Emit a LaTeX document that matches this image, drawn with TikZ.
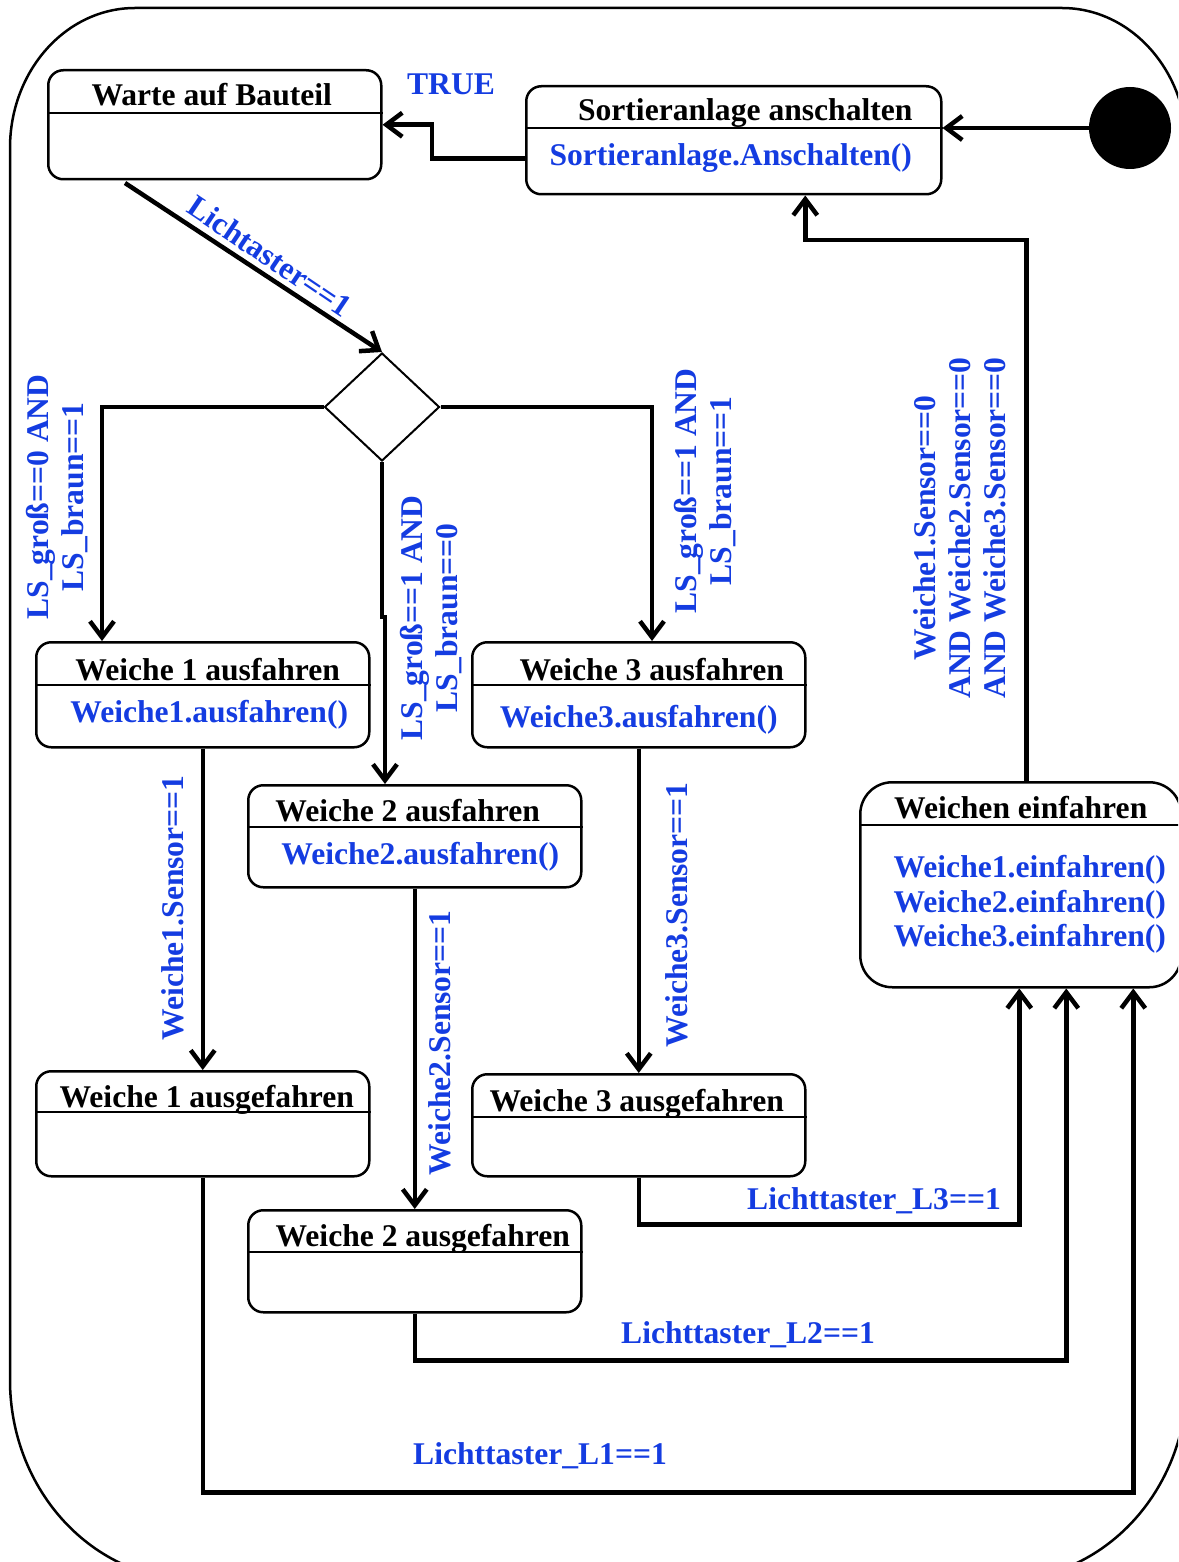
\documentclass[tikz,border=0pt]{standalone}
\usepackage{fontspec}
\setmainfont{Liberation Serif}
\usepackage{tikz}
\usetikzlibrary{shapes.geometric, arrows.meta, positioning}
\definecolor{guardblue}{RGB}{20,60,225}

\tikzset{
  statebox/.style={draw, line width=2.5pt, rounded corners=15pt, anchor=north west, inner sep=0pt},
  divider/.style={line width=2.5pt},
  titletext/.style={anchor=base, text=black},
  bodytext/.style={anchor=base, text=guardblue},
  guard/.style={text=guardblue, align=center, inner sep=0pt},
  decision/.style={draw, diamond, line width=2pt, minimum width=115pt, minimum height=108pt, inner sep=0pt},
  initdot/.style={circle, fill=black, minimum size=82pt, inner sep=0pt},
  trans/.style={line width=4.5pt, -{Straight Barb[length=16pt, width=24pt]}}
}

\begin{document}
\begin{tikzpicture}[x=1pt, y=-1pt, font=\fontsize{31.6}{35}\selectfont\bfseries]
  \useasboundingbox (0,0) rectangle (1178,1562);
  \clip (0,0) rectangle (1178,1562);

  % outer frame, runs off the right and bottom edge
  \draw[line width=2.5pt] (10,148) .. controls (10,70.7) and (66,8) .. (135,8)
    -- (1062,8) .. controls (1131,8) and (1187,70.7) .. (1187,148)
    -- (1187,1380) .. controls (1187,1490.5) and (1104.2,1580) .. (1002,1580)
    -- (195,1580) .. controls (92.8,1580) and (10,1490.5) .. (10,1380) -- cycle;

  % states: box at its top left corner
  \node[statebox, minimum width=333pt, minimum height=109pt] (warte) at (47,69) {};
  \node[statebox, minimum width=415pt, minimum height=108pt] (sort) at (525,85) {};
  \node[statebox, minimum width=333pt, minimum height=105pt] (w1) at (35,641) {};
  \node[statebox, minimum width=333pt, minimum height=102pt] (w2) at (247,784) {};
  \node[statebox, minimum width=333pt, minimum height=105pt] (w3) at (471,641) {};
  \node[statebox, minimum width=333pt, minimum height=105pt] (w1g) at (35,1070) {};
  \node[statebox, minimum width=333pt, minimum height=102pt] (w2g) at (247,1209) {};
  \node[statebox, minimum width=333pt, minimum height=102pt] (w3g) at (471,1073) {};
  \node[statebox, rounded corners=32pt, minimum width=321pt, minimum height=205pt] (ein) at (859,781) {};

  % name compartment lines
  \draw[divider] ([yshift=-44pt]warte.north west) -- ([yshift=-44pt]warte.north east);
  \draw[divider] ([yshift=-43pt]sort.north west) -- ([yshift=-43pt]sort.north east);
  \draw[divider] ([yshift=-44pt]w1.north west) -- ([yshift=-44pt]w1.north east);
  \draw[divider] ([yshift=-43pt]w2.north west) -- ([yshift=-43pt]w2.north east);
  \draw[divider] ([yshift=-44pt]w3.north west) -- ([yshift=-44pt]w3.north east);
  \draw[divider] ([yshift=-42pt]w1g.north west) -- ([yshift=-42pt]w1g.north east);
  \draw[divider] ([yshift=-43pt]w2g.north west) -- ([yshift=-43pt]w2g.north east);
  \draw[divider] ([yshift=-44pt]w3g.north west) -- ([yshift=-44pt]w3g.north east);
  \draw[divider] ([yshift=-44pt]ein.north west) -- ([yshift=-44pt]ein.north east);

  % titles
  \node[titletext] (warteT) at ([xshift=-3pt, yshift=-37pt]warte.north) {Warte auf Bauteil};
  \node[titletext] (sortT) at ([xshift=11.5pt, yshift=-36pt]sort.north) {Sortieranlage anschalten};
  \node[titletext] (w1T) at ([xshift=5pt, yshift=-39pt]w1.north) {Weiche 1 ausfahren};
  \node[titletext] (w2T) at ([xshift=-7pt, yshift=-37pt]w2.north) {Weiche 2 ausfahren};
  \node[titletext] (w3T) at ([xshift=13pt, yshift=-39pt]w3.north) {Weiche 3 ausfahren};
  \node[titletext] (w1gT) at ([xshift=4pt, yshift=-37pt]w1g.north) {Weiche 1 ausgefahren};
  \node[titletext] (w2gT) at ([xshift=8pt, yshift=-37pt]w2g.north) {Weiche 2 ausgefahren};
  \node[titletext] (w3gT) at ([xshift=-2pt, yshift=-38pt]w3g.north) {Weiche 3 ausgefahren};
  \node[titletext] (einT) at ([yshift=-37pt]ein.north) {Weichen einfahren};

  % entry actions
  \node[bodytext] (sortB) at ([xshift=-3pt, yshift=-81pt]sort.north) {Sortieranlage.Anschalten()};
  \node[bodytext] (w1B) at ([xshift=6.5pt, yshift=-81pt]w1.north) {Weiche1.ausfahren()};
  \node[bodytext] (w2B) at ([xshift=5.5pt, yshift=-80pt]w2.north) {Weiche2.ausfahren()};
  \node[bodytext] (w3B) at ([yshift=-86pt]w3.north) {Weiche3.ausfahren()};
  \node[bodytext, anchor=base west] (ein1) at (890,877) {Weiche1.einfahren()};
  \node[bodytext, anchor=base west] (ein2) at (890,912) {Weiche2.einfahren()};
  \node[bodytext, anchor=base west] (ein3) at (890,946) {Weiche3.einfahren()};

  % start and choice
  \node[initdot] (init) at (1130,128) {};
  \node[decision] (dia) at (382,407) {};
  \coordinate (warteout) at (125,183);

  % transitions
  \draw[trans] (init.west) -- (init.west -| sort.east);
  \draw[trans] (sort.west |- sortB) -- ++(-93,0) |- (warte.east);
  \draw[trans] (warteout) -- (dia.north);
  \draw[trans] (dia.west) -| ([xshift=67pt]w1.north west);
  \draw[trans] (dia.south) -- ++(0,155) -| ([xshift=138pt]w2.north west);
  \draw[trans] (dia.east) -| ([xshift=181pt]w3.north west);
  \draw[trans] (w1.south) -- (w1g.north);
  \draw[trans] (w2.south) -- (w2g.north);
  \draw[trans] (w3.south) -- (w3g.north);
  \draw[trans] (w3g.south) -- ++(0,47) -| ([xshift=-1.5pt]ein.south);
  \draw[trans] (w2g.south) -- ++(0,47) -| ([xshift=45.5pt]ein.south);
  \draw[trans] (w1g.south) -- ++(0,315) -| ([xshift=112.5pt]ein.south);
  \draw[trans] ([xshift=5.5pt]ein.north) -- ++(0,-541) -| ([xshift=71.5pt]sort.south);

  % guards
  \node[guard] (gTrue) at (451,84) {TRUE};
  \node[guard, rotate=-34] (gLicht) at (270,256) {Lichtaster==1};
  \node[guard, rotate=90] (gLeft) at (57,497) {LS\_groß==0 AND\\LS\_braun==1};
  \node[guard, rotate=90] (gMid) at (431,618) {LS\_groß==1 AND\\LS\_braun==0};
  \node[guard, rotate=90] (gRight) at (705,491) {LS\_groß==1 AND\\LS\_braun==1};
  \node[guard, rotate=90] (gBack) at (960,528) {Weiche1.Sensor==0\\AND Weiche2.Sensor==0\\AND Weiche3.Sensor==0};
  \node[guard, rotate=90] (gS1) at (173,908) {Weiche1.Sensor==1};
  \node[guard, rotate=90] (gS2) at (440,1043) {Weiche2.Sensor==1};
  \node[guard, rotate=90] (gS3) at (677,915) {Weiche3.Sensor==1};
  \node[guard] (gL3) at (874,1201) {Lichttaster\_L3==1};
  \node[guard] (gL2) at (748,1335) {Lichttaster\_L2==1};
  \node[guard] (gL1) at (540,1456) {Lichttaster\_L1==1};
\end{tikzpicture}
\end{document}
